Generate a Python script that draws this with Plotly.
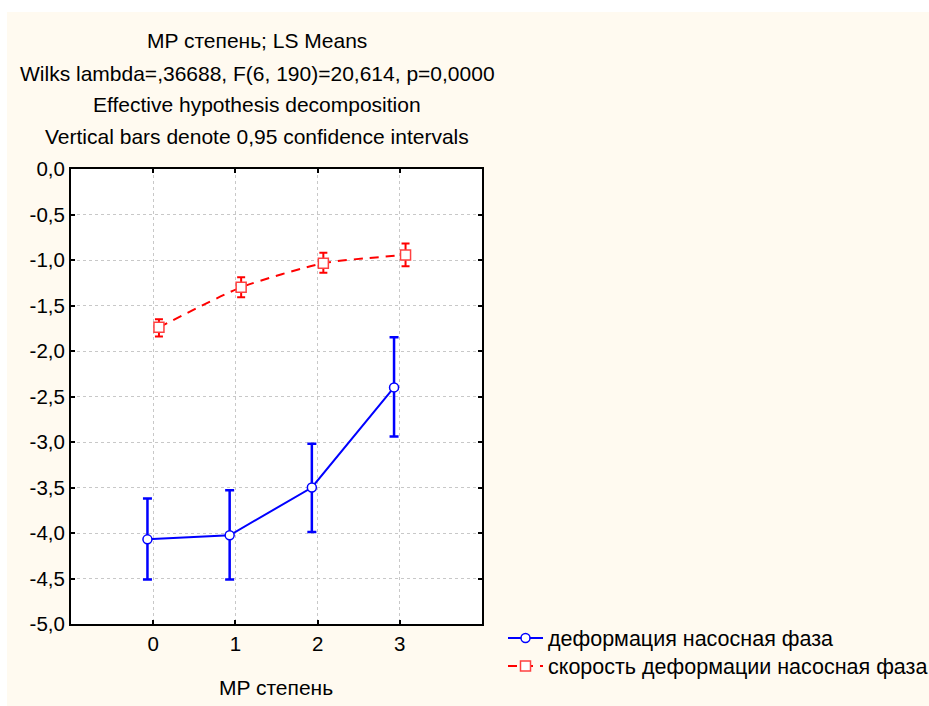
import plotly.graph_objects as go

# ---- data ----
categories = [0, 1, 2, 3]
x_tick_labels = ["0", "1", "2", "3"]
y_tick_values = [0.0, -0.5, -1.0, -1.5, -2.0, -2.5, -3.0, -3.5, -4.0, -4.5, -5.0]
y_tick_labels = ["0,0", "-0,5", "-1,0", "-1,5", "-2,0", "-2,5", "-3,0", "-3,5", "-4,0", "-4,5", "-5,0"]

deform_name = "деформация насосная фаза"
deform_mean = [-4.07, -4.025, -3.50, -2.40]
deform_low = [-4.51, -4.51, -3.99, -2.94]
deform_high = [-3.62, -3.53, -3.02, -1.85]

speed_name = "скорость деформации насосная фаза"
speed_mean = [-1.74, -1.30, -1.035, -0.945]
speed_low = [-1.84, -1.41, -1.14, -1.07]
speed_high = [-1.65, -1.19, -0.92, -0.82]

title_lines = [
    "MP степень; LS Means",
    "Wilks lambda=,36688, F(6, 190)=20,614, p=0,0000",
    "Effective hypothesis decomposition",
    "Vertical bars denote 0,95 confidence intervals",
]
x_title = "MP степень"

# ---- layout geometry (pixels) ----
W, H = 929, 706
L, R, T, B = 71, 482, 169, 624
pw, ph = R - L, B - T
FONT = "Liberation Sans, Arial, sans-serif"
CREAM = "#FFFAF0"
offset = 0.07

def px_x(px):
    return (px - L) / pw

def px_y(py):
    return (B - py) / ph

fig = go.Figure()

fig.add_trace(go.Scatter(
    x=[c - offset for c in categories], y=deform_mean,
    name=deform_name, mode="lines+markers", legend="legend",
    line=dict(color="#0000FF", width=2),
    marker=dict(symbol="circle", size=9, color="white", line=dict(color="#0000FF", width=1.5)),
    error_y=dict(type="data", symmetric=False,
                 array=[h - m for h, m in zip(deform_high, deform_mean)],
                 arrayminus=[m - l for m, l in zip(deform_mean, deform_low)],
                 color="#0000FF", thickness=2.5, width=4.5),
))

fig.add_trace(go.Scatter(
    x=[c + offset for c in categories], y=speed_mean,
    name=speed_name, mode="lines+markers", legend="legend2",
    line=dict(color="#FF0000", width=2, dash="9px,7px", shape="spline", smoothing=0.6),
    marker=dict(symbol="square", size=10, color="white", line=dict(color="#FF4040", width=1.5)),
    error_y=dict(type="data", symmetric=False,
                 array=[h - m for h, m in zip(speed_high, speed_mean)],
                 arrayminus=[m - l for m, l in zip(speed_mean, speed_low)],
                 color="#FF0000", thickness=2, width=4),
))

annotations = []
title_y = [41, 73, 104, 136]
for txt, yy in zip(title_lines, title_y):
    annotations.append(dict(
        text=txt, x=px_x(257), y=px_y(yy), xref="paper", yref="paper",
        xanchor="center", yanchor="middle", showarrow=False,
        font=dict(family=FONT, size=21, color="black"),
    ))
annotations.append(dict(
    text=x_title, x=px_x(276), y=px_y(687), xref="paper", yref="paper",
    xanchor="center", yanchor="middle", showarrow=False,
    font=dict(family=FONT, size=21, color="black"),
))

shapes = [
    dict(type="rect", xref="paper", yref="paper",
         x0=px_x(-5), x1=px_x(W + 5), y0=px_y(12), y1=px_y(-5),
         fillcolor="white", line=dict(width=0), layer="above"),
    dict(type="rect", xref="paper", yref="paper",
         x0=px_x(-5), x1=px_x(7), y0=px_y(H + 5), y1=px_y(-5),
         fillcolor="white", line=dict(width=0), layer="above"),
]

axis_common = dict(
    showline=True, linecolor="black", linewidth=2, mirror="ticks",
    ticks="inside", ticklen=4, tickwidth=2, tickcolor="black",
    showgrid=True, gridcolor="#C8C8C8", griddash="dot", gridwidth=1,
    zeroline=False, tickfont=dict(family=FONT, size=20.5, color="black"),
)

legend_common = dict(xanchor="left", yanchor="middle", bgcolor="rgba(0,0,0,0)",
                     font=dict(family=FONT, size=21.5, color="black"),
                     itemwidth=35)

fig.update_layout(
    width=W, height=H,
    margin=dict(l=L, r=W - R, t=T, b=H - B, pad=0, autoexpand=False),
    paper_bgcolor=CREAM, plot_bgcolor="white",
    xaxis=dict(range=[-1, 4], tickvals=categories, ticktext=x_tick_labels, **axis_common),
    yaxis=dict(range=[-5, 0], tickvals=y_tick_values, ticktext=y_tick_labels, **axis_common),
    showlegend=True,
    legend=dict(x=px_x(503), y=px_y(638), **legend_common),
    legend2=dict(x=px_x(503), y=px_y(666), **legend_common),
    annotations=annotations, shapes=shapes,
)

fig.write_html("out.html")
